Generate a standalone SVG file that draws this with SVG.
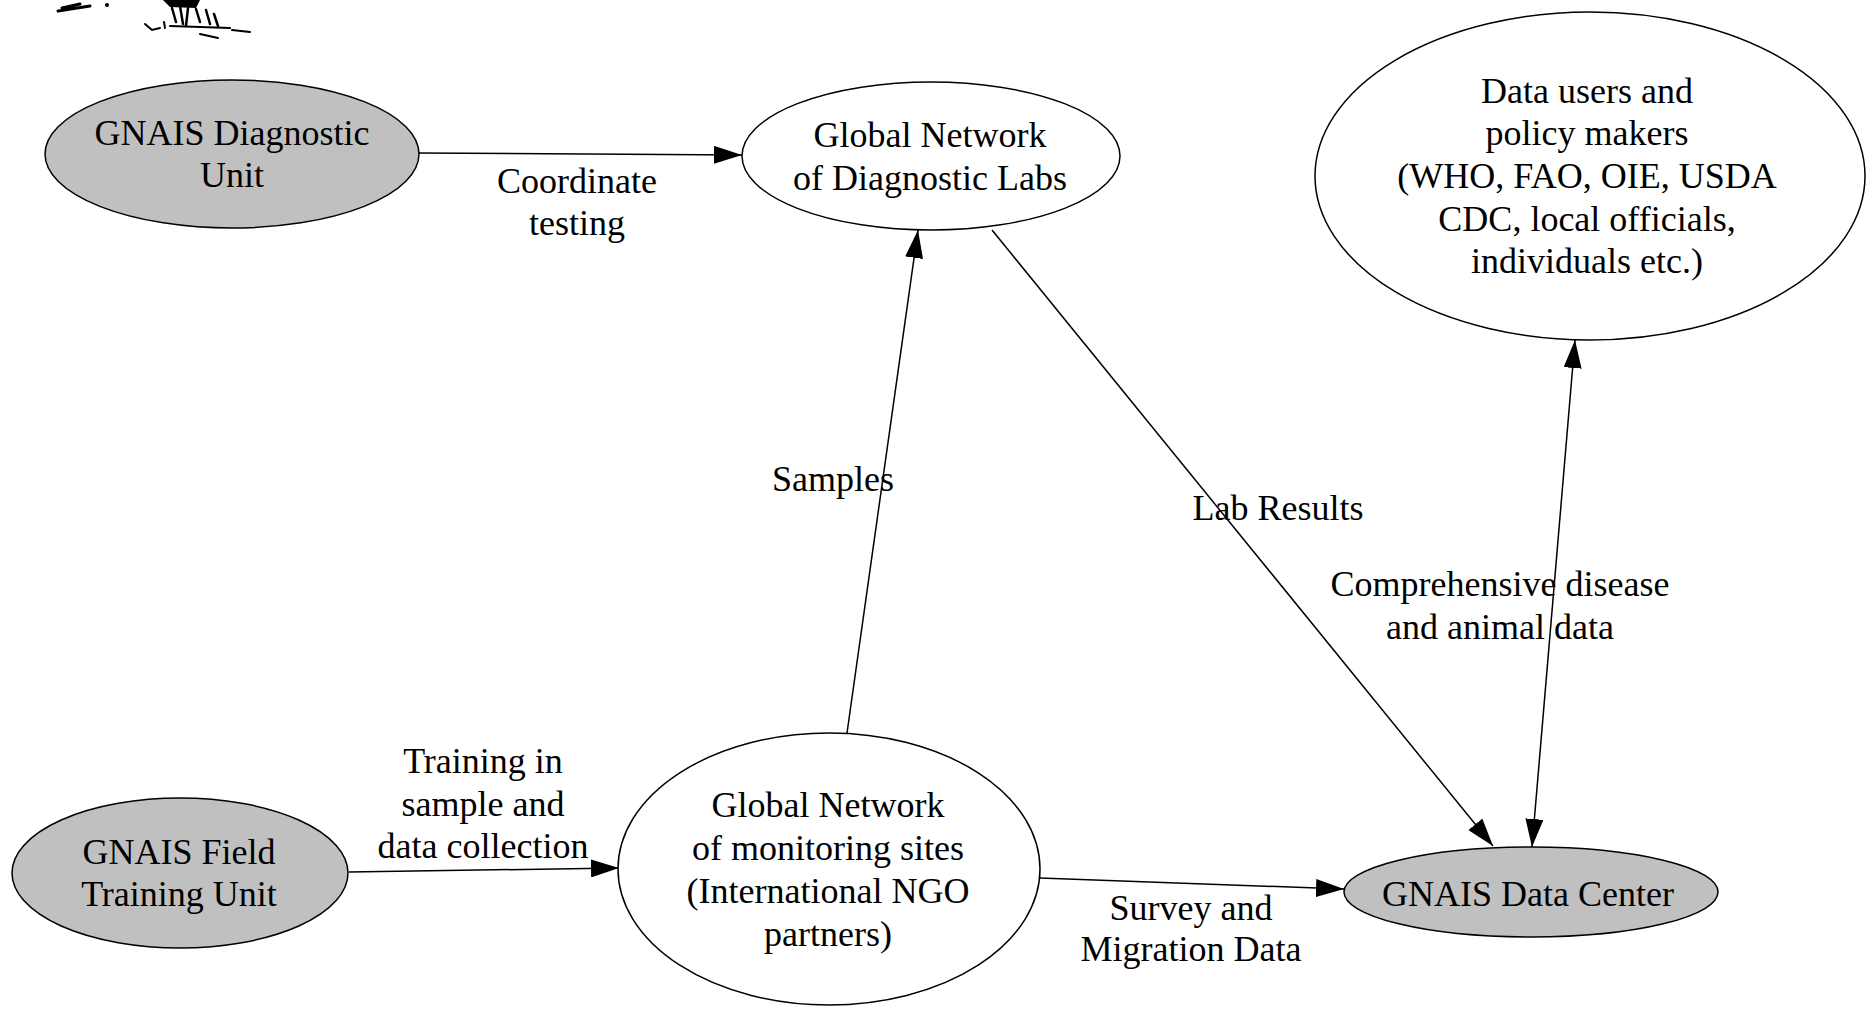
<svg xmlns="http://www.w3.org/2000/svg" width="1868" height="1016" viewBox="0 0 1868 1016">
<style>
  .node ellipse { stroke: #000; stroke-width: 1.5; }
  .plain { fill: #fff; }
  .gray { fill: #c0c0c0; }
  text { font-family: "Liberation Serif", "Times New Roman", serif; font-size: 36px; fill: #000; text-anchor: middle; }
  .edge { stroke: #000; stroke-width: 1.5; fill: none; }
</style>
<defs>
  <marker id="arrow" markerUnits="userSpaceOnUse" viewBox="0 0 28 18" refX="28" refY="9" markerWidth="28" markerHeight="18" orient="auto-start-reverse">
    <path d="M0,0 L28,9 L0,18 Z" fill="#000"/>
  </marker>
</defs>
<rect width="1868" height="1016" fill="#fff"/>

<g id="clipart-fragment" stroke="#000" fill="none" stroke-linecap="round">
  <path d="M58,11 L90,6 M62,8 L80,4" stroke-width="3"/>
  <circle cx="107" cy="5" r="2" fill="#000" stroke="none"/>
  <path d="M163,0 L200,0 L196,8 L170,7 Z" fill="#000" stroke="none"/>
  <path d="M172,8 L176,22 M180,6 L183,24 M188,8 L186,26 M196,9 L200,22 M206,10 L210,24 M214,14 L218,26" stroke-width="2.5"/>
  <path d="M145,24 L152,30 L160,28 M164,22 L165,28 M170,26 L230,28 M232,30 L250,32 M200,34 L218,38" stroke-width="2"/>
</g>

<g id="connectors">
  <path class="edge" d="M419,153 L742,155" marker-end="url(#arrow)"/>
  <path class="edge" d="M349,872 L619,868" marker-end="url(#arrow)"/>
  <path class="edge" d="M847,733 L918,230" marker-end="url(#arrow)"/>
  <path class="edge" d="M992,230 L1493,846" marker-end="url(#arrow)"/>
  <path class="edge" d="M1575,340 L1532,847" marker-start="url(#arrow)" marker-end="url(#arrow)"/>
  <path class="edge" d="M1040,878 L1344,889" marker-end="url(#arrow)"/>
  <text x="577" y="193">Coordinate</text>
  <text x="577" y="235">testing</text>
  <text x="483" y="773">Training in</text>
  <text x="483" y="816">sample and</text>
  <text x="483" y="858">data collection</text>
  <text x="833" y="491">Samples</text>
  <text x="1278" y="520">Lab Results</text>
  <text x="1500" y="596">Comprehensive disease</text>
  <text x="1500" y="639">and animal data</text>
  <text x="1191" y="920">Survey and</text>
  <text x="1191" y="961">Migration Data</text>
</g>

<g id="node-diagnostic-unit" class="node">
  <ellipse class="gray" cx="232" cy="154" rx="187" ry="74"/>
  <text x="232" y="145">GNAIS Diagnostic</text>
  <text x="232" y="187">Unit</text>
</g>

<g id="node-diagnostic-labs" class="node">
  <ellipse class="plain" cx="931" cy="156" rx="189" ry="74"/>
  <text x="930" y="147">Global Network</text>
  <text x="930" y="190">of Diagnostic Labs</text>
</g>

<g id="node-data-users" class="node">
  <ellipse class="plain" cx="1590" cy="176" rx="275" ry="164"/>
  <text x="1587" y="103">Data users and</text>
  <text x="1587" y="145">policy makers</text>
  <text x="1587" y="188">(WHO, FAO, OIE, USDA</text>
  <text x="1587" y="231">CDC, local officials,</text>
  <text x="1587" y="273">individuals etc.)</text>
</g>

<g id="node-field-training" class="node">
  <ellipse class="gray" cx="180" cy="873" rx="168" ry="75"/>
  <text x="179" y="864">GNAIS Field</text>
  <text x="179" y="906">Training Unit</text>
</g>

<g id="node-monitoring-sites" class="node">
  <ellipse class="plain" cx="829" cy="869" rx="211" ry="136"/>
  <text x="828" y="817">Global Network</text>
  <text x="828" y="860">of monitoring sites</text>
  <text x="828" y="903">(International NGO</text>
  <text x="828" y="946">partners)</text>
</g>

<g id="node-data-center" class="node">
  <ellipse class="gray" cx="1531" cy="892" rx="187" ry="45"/>
  <text x="1528" y="906">GNAIS Data Center</text>
</g>
</svg>
